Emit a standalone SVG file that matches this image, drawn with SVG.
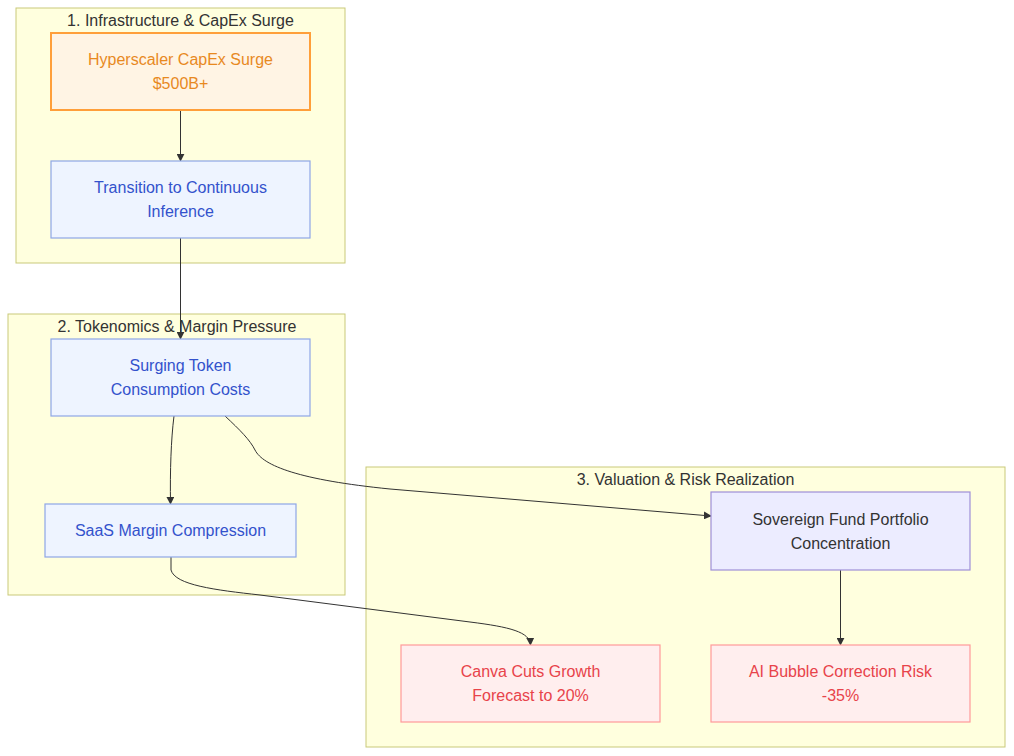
<svg xmlns="http://www.w3.org/2000/svg" width="1014" height="756" viewBox="0 0 1014 756">
<style>
.cl{fill:#ffffde;stroke:#c9c97a;stroke-width:1}
.ct{font-family:"Liberation Sans",Arial,sans-serif;font-size:16px;fill:#333;text-anchor:middle;dominant-baseline:central}
.t{font-family:"Liberation Sans",Arial,sans-serif;font-size:16px;text-anchor:middle;dominant-baseline:central}
.orange rect{fill:#fff4e4;stroke:#ff9f3a;stroke-width:2}
.orange text{fill:#e8891f}
.blue rect{fill:#eef4ff;stroke:#8ea6e6;stroke-width:1.2}
.blue text{fill:#3352cc}
.purple rect{fill:#ececff;stroke:#9f8fd8;stroke-width:1.2}
.purple text{fill:#333}
.red rect{fill:#ffeeee;stroke:#ff9a9a;stroke-width:1.2}
.red text{fill:#e8434a}
.e{fill:none;stroke:#333;stroke-width:1}
</style>
<defs>
<marker id="ah" viewBox="0 0 10 10" refX="9" refY="5" markerWidth="8" markerHeight="8" orient="auto" markerUnits="userSpaceOnUse">
<path d="M0,0 L10,5 L0,10 z" fill="#333"/>
</marker>
</defs>
<g id="cluster1"><rect class="cl" x="16" y="8" width="329" height="255"/><text class="ct" x="180.5" y="20">1. Infrastructure &amp; CapEx Surge</text></g>
<g id="cluster2"><rect class="cl" x="8" y="314" width="337" height="281"/><text class="ct" x="177" y="326">2. Tokenomics &amp; Margin Pressure</text></g>
<g id="cluster3"><rect class="cl" x="366" y="467" width="639" height="280"/><text class="ct" x="685.5" y="479">3. Valuation &amp; Risk Realization</text></g>
<g id="connectors">
<path class="e" d="M180.5,110 L180.5,161" marker-end="url(#ah)"/>
<path class="e" d="M180.5,238 L180.5,339" marker-end="url(#ah)"/>
<path class="e" d="M174,416 C171,440 170,470 170.5,504" marker-end="url(#ah)"/>
<path class="e" d="M225,416 C240,430 250,440 255,450 C263,466 300,480 390,489 L711,516" marker-end="url(#ah)"/>
<path class="e" d="M171,557 L171,570 C175,585 215,590 260,595 L470,622 C510,627 530,632 530.5,645" marker-end="url(#ah)"/>
<path class="e" d="M840.5,570 L840.5,645" marker-end="url(#ah)"/>
</g>
<g id="hyperscaler" class="orange"><rect x="51" y="33" width="259" height="77"/><text class="t" x="180.5" y="59">Hyperscaler CapEx Surge</text><text class="t" x="180.5" y="83">$500B+</text></g>
<g id="transition" class="blue"><rect x="51" y="161" width="259" height="77"/><text class="t" x="180.5" y="187">Transition to Continuous</text><text class="t" x="180.5" y="211">Inference</text></g>
<g id="surging" class="blue"><rect x="51" y="339" width="259" height="77"/><text class="t" x="180.5" y="365">Surging Token</text><text class="t" x="180.5" y="389">Consumption Costs</text></g>
<g id="saas" class="blue"><rect x="45" y="504" width="251" height="53"/><text class="t" x="170.5" y="530.5">SaaS Margin Compression</text></g>
<g id="sovereign" class="purple"><rect x="711" y="492" width="259" height="78"/><text class="t" x="840.5" y="519">Sovereign Fund Portfolio</text><text class="t" x="840.5" y="543">Concentration</text></g>
<g id="canva" class="red"><rect x="401" y="645" width="259" height="77"/><text class="t" x="530.5" y="671">Canva Cuts Growth</text><text class="t" x="530.5" y="695">Forecast to 20%</text></g>
<g id="aibubble" class="red"><rect x="711" y="645" width="259" height="77"/><text class="t" x="840.5" y="671">AI Bubble Correction Risk</text><text class="t" x="840.5" y="695">-35%</text></g>
</svg>
